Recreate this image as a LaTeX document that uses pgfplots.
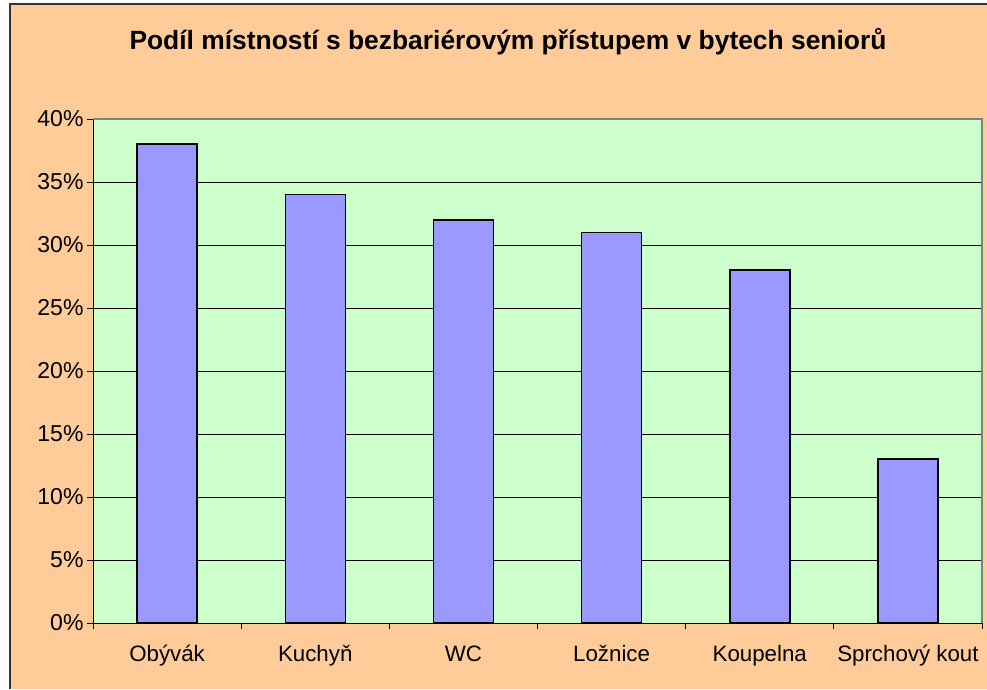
\documentclass[border=0pt]{standalone}
\usepackage{pgfplots}
\pgfplotsset{compat=1.18}
\usepackage{fontspec}
\setmainfont{Liberation Sans}
\definecolor{peach}{HTML}{FFCC99}
\definecolor{plotgreen}{HTML}{CCFFCC}
\definecolor{barblue}{HTML}{9999FF}
\definecolor{frame}{HTML}{808080}
\begin{document}
\begin{tikzpicture}[x=1pt,y=1pt]
\path[use as bounding box] (0,0) rectangle (987,689);
\fill[white] (0,0) rectangle (987,689);
\fill[peach] (10,0) rectangle (987,685);
\draw[black!80, line width=1.5pt] (10,0) -- (10,685) -- (987,685);
\node[anchor=base, font=\fontsize{26.4}{31}\selectfont\bfseries] at (508,639) {Podíl místností s bezbariérovým přístupem v bytech seniorů};
\begin{axis}[
  at={(93pt,66pt)}, anchor=south west,
  scale only axis, width=889pt, height=504pt,
  xmin=-0.5, xmax=5.5, ymin=0, ymax=40,
  axis background/.style={fill=plotgreen},
  axis line style={black, line width=1pt},
  xtick={0,1,2,3,4,5},
  xticklabels={Obývák, Kuchyň, WC, Ložnice, Koupelna, Sprchový kout},
  minor xtick={-0.5,0.5,1.5,2.5,3.5,4.5,5.5},
  major x tick style={draw=none},
  minor tick length=6pt,
  major tick length=6pt,
  tick align=outside,
  xtick pos=bottom, ytick pos=left,
  ytick={0,5,...,40},
  yticklabel={\pgfmathprintnumber{\tick}\%},
  /pgf/number format/assume math mode=true,
  yticklabel style={font=\fontsize{23}{27}\selectfont},
  xticklabel style={font=\fontsize{22.3}{27}\selectfont, anchor=base, yshift=-32pt},
  tick style={black, line width=0.8pt},
  ymajorgrids,
  grid style={black, line width=0.8pt},
  ybar, bar width=60pt,
  after end axis/.code={
    \draw[frame, line width=2pt] (rel axis cs:0,1) -- (rel axis cs:1,1) -- (rel axis cs:1,0);
  },
]
\addplot[fill=barblue, draw=black, line width=1.5pt] coordinates {
  (0,38) (1,34) (2,32) (3,31) (4,28) (5,13)
};
\end{axis}
\end{tikzpicture}
\end{document}
